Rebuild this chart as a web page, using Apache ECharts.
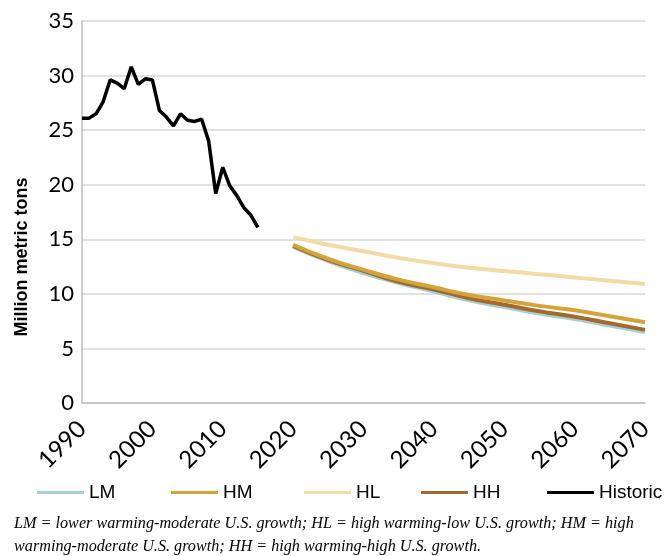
<!DOCTYPE html>
<html>
<head>
<meta charset="utf-8">
<script src="https://cdn.jsdelivr.net/npm/echarts@6/dist/echarts.min.js"></script>
<style>
  html, body { margin: 0; padding: 0; background: #fff; }
  #main { width: 666px; height: 556px; }
</style>
</head>
<body>
<div id="main"></div>
<script>
// historic 1990-2015
var histYears = [1990, 1991, 1992, 1993, 1994, 1995, 1996, 1997, 1998, 1999, 2000, 2001, 2002,
  2003, 2004, 2005, 2006, 2007, 2008, 2009, 2010, 2011, 2012, 2013, 2014, 2015];
var histValues = [26.1, 26.1, 26.5, 27.6, 29.6, 29.3, 28.8, 30.8, 29.2, 29.7, 29.6, 26.8, 26.2,
  25.4, 26.5, 25.9, 25.8, 26.0, 24.0, 19.2, 21.6, 19.9, 19.0, 17.9, 17.2, 16.1];

// projections 2020-2070
var projYears = [2020, 2025, 2030, 2035, 2040, 2045, 2050, 2055, 2060, 2065, 2070];
var lmValues = [14.3, 13.0, 11.9, 11.0, 10.2, 9.4, 8.8, 8.2, 7.7, 7.1, 6.5];
var hmValues = [14.5, 13.2, 12.2, 11.3, 10.6, 9.9, 9.4, 8.9, 8.5, 7.95, 7.4];
var hlValues = [15.2, 14.5, 13.9, 13.3, 12.8, 12.4, 12.1, 11.8, 11.5, 11.2, 10.9];
var hhValues = [14.4, 13.1, 12.1, 11.1, 10.4, 9.6, 9.0, 8.4, 7.9, 7.3, 6.7];

var caption = 'LM = lower warming-moderate U.S. growth; HL = high warming-low U.S. growth; HM = high\n' +
  'warming-moderate U.S. growth; HH = high warming-high U.S. growth.';

function pairs(xs, ys) {
  return xs.map(function (x, i) { return [x, ys[i]]; });
}

function projSeries(name, color, values, z) {
  return {
    name: name,
    type: 'line',
    smooth: true,
    showSymbol: false,
    z: z,
    lineStyle: { color: color, width: 4 },
    itemStyle: { color: color },
    data: pairs(projYears, values)
  };
}

function legendAt(name, left) {
  return {
    data: [name],
    left: left,
    top: 478,
    icon: 'rect',
    itemWidth: 47,
    itemHeight: 3,
    itemGap: 0,
    textStyle: { fontFamily: 'Liberation Sans', fontSize: 19, color: '#000' }
  };
}

var chart = echarts.init(document.getElementById('main'));

var option = {
  animation: false,
  backgroundColor: '#fff',
  grid: { left: 82, right: 21, top: 21, bottom: 153 },
  legend: [
    legendAt('LM', 32),
    legendAt('HM', 166),
    legendAt('HL', 299),
    legendAt('HH', 416),
    legendAt('Historic', 542)
  ],
  xAxis: {
    type: 'value',
    min: 1990,
    max: 2070,
    interval: 10,
    axisLine: { show: true, lineStyle: { color: '#bfbfbf', width: 1.5 } },
    axisTick: { show: false },
    splitLine: { show: false },
    axisLabel: {
      rotate: 45,
      margin: 22,
      fontFamily: 'Lato',
      fontSize: 24,
      color: '#000',
      formatter: function (v) { return String(v); }
    }
  },
  yAxis: {
    type: 'value',
    min: 0,
    max: 35,
    interval: 5,
    axisLine: { show: true, lineStyle: { color: '#bfbfbf', width: 1.5 } },
    axisTick: { show: false },
    splitLine: { lineStyle: { color: '#d9d9d9', width: 1.5 } },
    axisLabel: {
      margin: 8,
      fontFamily: 'Lato',
      fontSize: 22,
      color: '#000'
    }
  },
  graphic: [
    {
      type: 'text',
      x: 22,
      y: 257,
      rotation: Math.PI / 2,
      style: {
        text: 'Million metric tons',
        fontFamily: 'Liberation Sans',
        fontWeight: 'bold',
        fontSize: 18,
        fill: '#000',
        textAlign: 'center',
        textVerticalAlign: 'middle'
      }
    },
    {
      type: 'text',
      left: 14,
      top: 512,
      style: {
        text: caption,
        fontFamily: 'Liberation Serif',
        fontStyle: 'italic',
        fontSize: 16.2,
        lineHeight: 23,
        fill: '#000'
      }
    }
  ],
  series: [
    projSeries('LM', '#a8cfd9', lmValues, 2),
    projSeries('HH', '#a36a2c', hhValues, 3),
    projSeries('HM', '#d4a43c', hmValues, 4),
    projSeries('HL', '#f2dca6', hlValues, 5),
    {
      name: 'Historic',
      type: 'line',
      showSymbol: false,
      z: 6,
      lineStyle: { color: '#000', width: 3.5 },
      itemStyle: { color: '#000' },
      data: pairs(histYears, histValues)
    }
  ]
};

chart.setOption(option);
</script>
</body>
</html>
